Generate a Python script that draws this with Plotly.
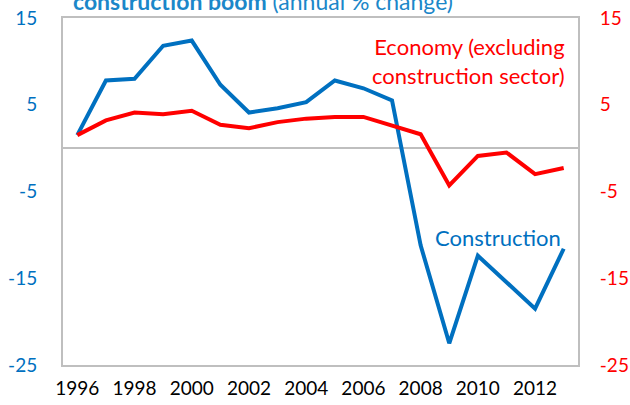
import plotly.graph_objects as go

years = list(range(1996, 2014))
construction = [1.5, 7.8, 8.0, 11.8, 12.4, 7.3, 4.1, 4.6, 5.3, 7.8, 6.9, 5.5,
                -11.2, -22.5, -12.4, -15.4, -18.5, -11.6]
economy = [1.5, 3.2, 4.1, 3.9, 4.3, 2.7, 2.3, 3.0, 3.4, 3.6, 3.6, 2.6,
           1.6, -4.3, -0.9, -0.5, -3.0, -2.3]
x_ticks = list(range(1996, 2013, 2))
y_ticks = [15, 5, -5, -15, -25]
y_tick_text = ["15", "5", "-5", "-15", "-25"]

BLUE = "#0070C0"
RED = "#FF0000"
GRAY = "#BFBFBF"
FONT = "Lato"

fig = go.Figure()
fig.add_trace(go.Scatter(x=years, y=construction, mode="lines",
                         line=dict(color=BLUE, width=4), yaxis="y"))
fig.add_trace(go.Scatter(x=years, y=economy, mode="lines",
                         line=dict(color=RED, width=4), yaxis="y2"))

fig.update_layout(
    width=630, height=405,
    margin=dict(l=63, r=52, t=18, b=40),
    paper_bgcolor="white", plot_bgcolor="white",
    showlegend=False,
    font=dict(family=FONT, size=19, color="black"),
    title=dict(text="<b>construction boom</b> (annual % change)",
               xref="container", yref="container", x=73 / 630, y=0.995,
               xanchor="left", yanchor="middle",
               font=dict(family=FONT, size=23, color="#1B87C9")),
    xaxis=dict(range=[1995.5, 2013.5], tickvals=x_ticks,
               ticktext=[str(v) for v in x_ticks],
               showgrid=False, zeroline=False, automargin=False,
               showline=True, mirror=True, linecolor=GRAY, linewidth=2,
               ticks="outside", ticklen=5, tickcolor="rgba(0,0,0,0)",
               tickfont=dict(family=FONT, size=19, color="black")),
    yaxis=dict(range=[-25, 15], tickvals=y_ticks, ticktext=y_tick_text,
               showgrid=False, zeroline=True, zerolinecolor=GRAY, zerolinewidth=2,
               showline=True, linecolor=GRAY, linewidth=2, automargin=False,
               ticks="outside", ticklen=20, tickcolor="rgba(0,0,0,0)",
               tickfont=dict(family=FONT, size=19, color=BLUE)),
    yaxis2=dict(range=[-25, 15], tickvals=y_ticks, ticktext=y_tick_text,
                overlaying="y", side="right",
                showgrid=False, zeroline=False, automargin=False,
                showline=True, linecolor=GRAY, linewidth=2,
                ticks="outside", ticklen=16, tickcolor="rgba(0,0,0,0)",
                tickfont=dict(family=FONT, size=19, color=RED)),
    annotations=[
        dict(text="Economy (excluding<br>construction sector)",
             xref="x", yref="y", x=2013.12, y=10.0,
             xanchor="right", yanchor="middle", align="right", showarrow=False,
             font=dict(family=FONT, size=22, color=RED)),
        dict(text="Construction",
             xref="x", yref="y", x=2012.98, y=-10.3,
             xanchor="right", yanchor="middle", align="right", showarrow=False,
             font=dict(family=FONT, size=22, color=BLUE)),
    ],
)

fig.write_html("out.html", config={"displayModeBar": False},
               post_script="document.body.style.margin='0';document.body.style.overflow='hidden';")
